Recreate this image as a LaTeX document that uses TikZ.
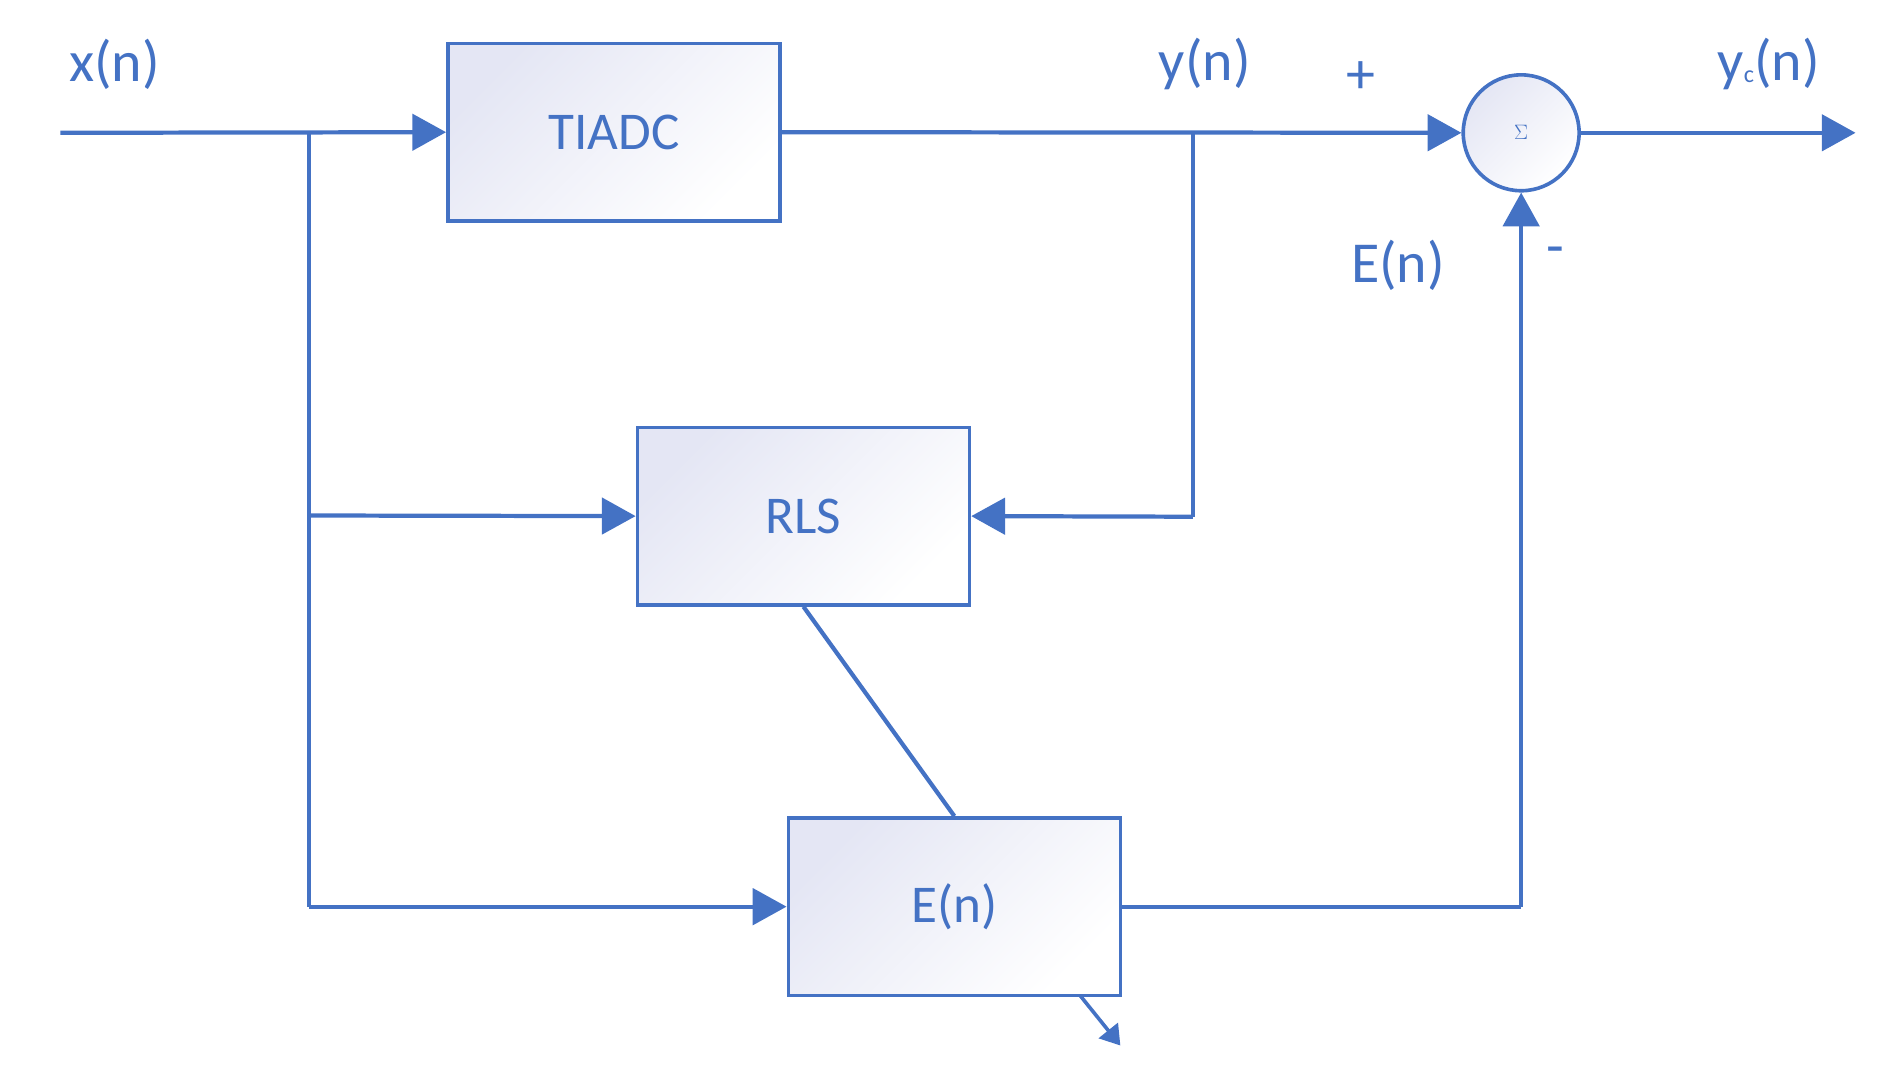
\documentclass[tikz,border=0pt]{standalone}
\usepackage{fontspec}
\setmainfont{Carlito}
\usetikzlibrary{arrows.meta}
\definecolor{bl}{HTML}{4472C4}
\definecolor{lav}{HTML}{E4E6F4}
\begin{document}
\begin{tikzpicture}[x=1pt,y=-1pt,
  ln/.style={draw=bl,line width=3.5pt},
  ar/.style={ln,-{Triangle[length=28pt,width=30pt]}},
  box/.style={draw=bl,line width=3pt,minimum width=275pt,minimum height=147pt,
    left color=lav,right color=white,shading angle=45,text=bl,font=\fontsize{44}{50}\selectfont},
  lab/.style={text=bl,font=\fontsize{48}{54}\selectfont}]
\useasboundingbox (0,0) rectangle (1568,890.4);
\node[box] (tiadc) at (508.5,109.5) {TIADC};
\node[box] (rls) at (665.5,427.5) {RLS};
\node[box] (en) at (790.5,751) {E(n)};
\node[circle,draw=bl,line width=3pt,minimum size=96pt,inner sep=0,
  left color=lav,right color=white,shading angle=45,text=bl,font=\fontsize{16}{18}\selectfont] (sum) at (1260,110) {$\Sigma$};
\coordinate (in) at (50,110);
\coordinate (j1) at (256,110);
\coordinate (j2) at (256,427);
\coordinate (j3) at (256,751);
\coordinate (j4) at (988,110);
\coordinate (j5) at (988,428);
\coordinate (c1) at (1260,751);
\coordinate (out) at (1537,110);
\coordinate (s1) at (895,825);
\coordinate (s2) at (928,866);
\draw[ar] (in) -- (tiadc.west);
\draw[ar] (tiadc.east) -- (sum.west);
\draw[ar] (sum.east) -- (out);
\draw[ln] (j1) -- (j3);
\draw[ar] (j2) -- (rls.west);
\draw[ar] (j3) -- (en.west);
\draw[ln] (j4) -- (j5);
\draw[ar] (j5) -- (rls.east);
\draw[ln] (rls.south) -- (en.north);
\draw[ln] (en.east) -- (c1);
\draw[ar] (c1) -- (sum.south);
\draw[draw=bl,line width=3pt,-{Triangle[length=16pt,width=20pt]}] (s1) -- (s2);
\node[lab] (lx) at (95,53) {x(n)};
\node[lab] (ly) at (998,53) {y(n)};
\node[lab] (lyc) at (1465,53) {y\raisebox{-2pt}{\fontsize{20}{20}\selectfont c}(n)};
\node[lab] (le) at (1158,220) {E(n)};
\node[lab] (lp) at (1127,64) {+};
\node[lab] (lm) at (1288,212) {-};
\end{tikzpicture}
\end{document}
